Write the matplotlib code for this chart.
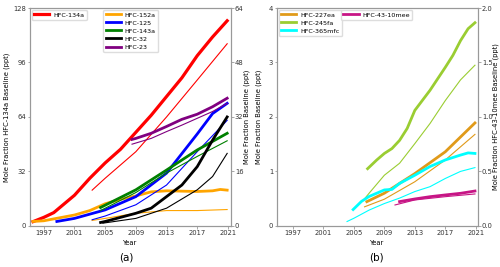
import matplotlib
matplotlib.use("Agg")
import matplotlib.pyplot as plt

# ---- panel (a) data, ppt ----
# HFC-134a on the left axis, the rest on the right axis
yr_134a = [1995.6, 1997, 1998.3, 2001, 2003, 2005, 2007, 2009, 2011, 2013, 2015, 2017, 2019, 2020.9]
hfc134a = [2.5, 5, 7.8, 18, 28, 37, 45, 55, 65, 76, 87, 100, 111, 120.5]
yr_134a_t = [2003.3, 2005, 2009, 2013, 2017, 2020.9]
hfc134a_t = [21, 28, 43.6, 64, 85.7, 107]

yr_152a = [1995.6, 1997, 2001, 2003, 2005, 2007, 2009, 2011, 2013, 2015, 2017, 2019, 2020, 2020.9]
hfc152a = [1.3, 1.5, 3.2, 4.5, 6.5, 7.8, 8.8, 10.0, 10.3, 10.2, 10.1, 10.3, 10.7, 10.5]
yr_152a_t = [2003.3, 2005, 2009, 2011, 2013, 2017, 2020.9]
hfc152a_t = [1.6, 2.2, 3.7, 4.1, 4.5, 4.5, 4.8]

yr_125 = [1998.7, 2001, 2005, 2009, 2013, 2017, 2019, 2020.9]
hfc125 = [1.3, 2.2, 4.7, 8.6, 15.5, 27, 33, 36]
yr_125_t = [2003.3, 2005, 2009, 2013, 2017, 2020.9]
hfc125_t = [1.8, 2.9, 6.2, 12, 21.8, 31]

yr_143a = [2004.4, 2009, 2013, 2017, 2020.9]
hfc143a = [5.4, 10.6, 16.4, 22.3, 27.2]
yr_143a_t = [2004.4, 2009, 2013, 2017, 2020.9]
hfc143a_t = [4.5, 9.8, 15.5, 20.4, 25]

yr_32 = [2004.4, 2005, 2009, 2011, 2013, 2015, 2017, 2019, 2020.9]
hfc32 = [1.0, 1.3, 3.7, 5.2, 8.6, 12, 17.4, 25.2, 32]
yr_32_t = [2004.7, 2009, 2013, 2017, 2019, 2020.9]
hfc32_t = [0.8, 2.2, 5.2, 10.6, 14.5, 21.3]

yr_23 = [2008.5, 2009, 2011, 2013, 2015, 2017, 2019, 2020.9]
hfc23 = [25.4, 25.7, 27.2, 29.2, 31.3, 32.8, 35, 37.5]
yr_23_t = [2008.5, 2011, 2013, 2015, 2017, 2019, 2020.9]
hfc23_t = [24, 25.7, 27.7, 29.6, 31.6, 33.6, 36]

# ---- panel (b) data, ppt ----
yr_227 = [2006.7, 2009, 2013, 2017, 2020.9]
hfc227 = [0.445, 0.6, 0.96, 1.36, 1.89]
yr_227_t = [2006.4, 2009, 2013, 2017, 2020.9]
hfc227_t = [0.35, 0.49, 0.81, 1.21, 1.68]

yr_245 = [2006.8, 2008, 2009, 2010, 2011, 2012, 2013, 2015, 2017, 2018, 2019, 2020, 2020.9]
hfc245 = [1.05, 1.21, 1.33, 1.42, 1.57, 1.79, 2.12, 2.49, 2.91, 3.13, 3.4, 3.62, 3.73]
yr_245_t = [2006.3, 2007, 2009, 2011, 2013, 2015, 2017, 2019, 2020.9]
hfc245_t = [0.48, 0.6, 0.93, 1.15, 1.51, 1.88, 2.3, 2.68, 2.95]

yr_365 = [2004.9, 2006, 2007, 2008, 2009, 2010, 2011, 2013, 2015, 2017, 2019, 2020, 2020.9]
hfc365 = [0.3, 0.45, 0.54, 0.6, 0.66, 0.67, 0.78, 0.93, 1.09, 1.21, 1.3, 1.34, 1.33]
yr_365_t = [2004.1, 2005, 2007, 2009, 2011, 2013, 2015, 2017, 2019, 2020.9]
hfc365_t = [0.08, 0.14, 0.29, 0.41, 0.51, 0.63, 0.72, 0.87, 1.0, 1.07]

yr_4310 = [2011, 2013, 2015, 2017, 2019, 2020.9]
hfc4310 = [0.223, 0.247, 0.268, 0.284, 0.299, 0.32]
yr_4310_t = [2010.4, 2013, 2017, 2020.9]
hfc4310_t = [0.192, 0.238, 0.268, 0.293]

years_ticks = [1997, 2001, 2005, 2009, 2013, 2017, 2021]
THICK, THIN = 2.0, 0.8
SPINE = "#999999"
FS = 4.9
LFS = 4.6

fig = plt.figure(figsize=(5.0, 2.67), dpi=100)
ax_a = fig.add_axes([0.06, 0.154, 0.402, 0.816])
ax_b = fig.add_axes([0.554, 0.154, 0.402, 0.816])


def style(ax):
    for s in ax.spines.values():
        s.set_color(SPINE)
    ax.tick_params(labelsize=FS, colors="#333333", length=1.8, width=0.6, pad=1.0)
    ax.tick_params(axis="both", color=SPINE)


def legend(ax, handles, anchor):
    ax.legend(handles=handles, loc="upper left", bbox_to_anchor=anchor, fontsize=LFS,
              handlelength=2.4, handletextpad=0.6, borderaxespad=0.3, labelspacing=0.4,
              borderpad=0.35, framealpha=1, edgecolor="#dddddd", fancybox=True)


# panel (a)
ax_a2 = ax_a.twinx()
h134, = ax_a.plot(yr_134a, hfc134a, color="red", lw=THICK + 0.3, label="HFC-134a")
ax_a.plot(yr_134a_t, hfc134a_t, color="red", lw=THIN)
pairs_a = [
    ("HFC-152a", "orange", yr_152a, hfc152a, yr_152a_t, hfc152a_t),
    ("HFC-125", "blue", yr_125, hfc125, yr_125_t, hfc125_t),
    ("HFC-143a", "green", yr_143a, hfc143a, yr_143a_t, hfc143a_t),
    ("HFC-32", "black", yr_32, hfc32, yr_32_t, hfc32_t),
    ("HFC-23", "purple", yr_23, hfc23, yr_23_t, hfc23_t),
]
hands = []
for name, col, x, y, xt, yt in pairs_a:
    h, = ax_a2.plot(x, y, color=col, lw=THICK, label=name)
    ax_a2.plot(xt, yt, color=col, lw=THIN)
    hands.append(h)

ax_a.set_xlim(1995.2, 2021.4)
ax_a.set_ylim(0, 128)
ax_a2.set_ylim(0, 64)
ax_a.set_yticks([0, 32, 64, 96, 128])
ax_a2.set_yticks([0, 16, 32, 48, 64])
ax_a.set_xticks(years_ticks)
ax_a.set_xlabel("Year", fontsize=FS, labelpad=3)
ax_a.set_ylabel("Mole Fraction HFC-134a Baseline (ppt)", fontsize=FS, va="center")
ax_a2.set_ylabel("Mole Fraction Baseline (ppt)", fontsize=FS, va="center")
ax_a.yaxis.set_label_coords(-0.118, 0.5)
ax_a2.yaxis.set_label_coords(1.078, 0.5)
for ax in (ax_a, ax_a2):
    style(ax)
legend(ax_a, [h134], (0.0, 1.0))
legend(ax_a2, hands, (0.355, 1.0))
fig.text(0.252, 0.037, "(a)", ha="center", va="center", fontsize=7.5)

# panel (b)
ax_b2 = ax_b.twinx()
pairs_b = [
    ("HFC-227ea", "#E09A1A", yr_227, hfc227, yr_227_t, hfc227_t),
    ("HFC-245fa", "yellowgreen", yr_245, hfc245, yr_245_t, hfc245_t),
    ("HFC-365mfc", "cyan", yr_365, hfc365, yr_365_t, hfc365_t),
]
hands_b = []
for name, col, x, y, xt, yt in pairs_b:
    h, = ax_b.plot(x, y, color=col, lw=THICK, label=name)
    ax_b.plot(xt, yt, color=col, lw=THIN)
    hands_b.append(h)
h4310, = ax_b2.plot(yr_4310, hfc4310, color="mediumvioletred", lw=THICK, label="HFC-43-10mee")
ax_b2.plot(yr_4310_t, hfc4310_t, color="mediumvioletred", lw=THIN)

ax_b.set_xlim(1994.9, 2021.3)
ax_b.set_ylim(0, 4)
ax_b2.set_ylim(0, 2.0)
ax_b.set_yticks([0, 1, 2, 3, 4])
ax_b2.set_yticks([0.0, 0.5, 1.0, 1.5, 2.0])
ax_b2.set_yticklabels(["0.0", "0.5", "1.0", "1.5", "2.0"])
ax_b.set_xticks(years_ticks)
ax_b.set_xlabel("Year", fontsize=FS, labelpad=3)
ax_b.set_ylabel("Mole Fraction Baseline (ppt)", fontsize=FS, va="center")
ax_b2.set_ylabel("Mole Fraction HFC-43-10mee Baseline (ppt)", fontsize=FS, va="center")
ax_b.yaxis.set_label_coords(-0.09, 0.5)
ax_b2.yaxis.set_label_coords(1.087, 0.5)
for ax in (ax_b, ax_b2):
    style(ax)
legend(ax_b, hands_b, (0.0, 1.0))
legend(ax_b2, [h4310], (0.31, 1.0))
fig.text(0.752, 0.037, "(b)", ha="center", va="center", fontsize=7.5)

fig.savefig("out.png", dpi=100)
